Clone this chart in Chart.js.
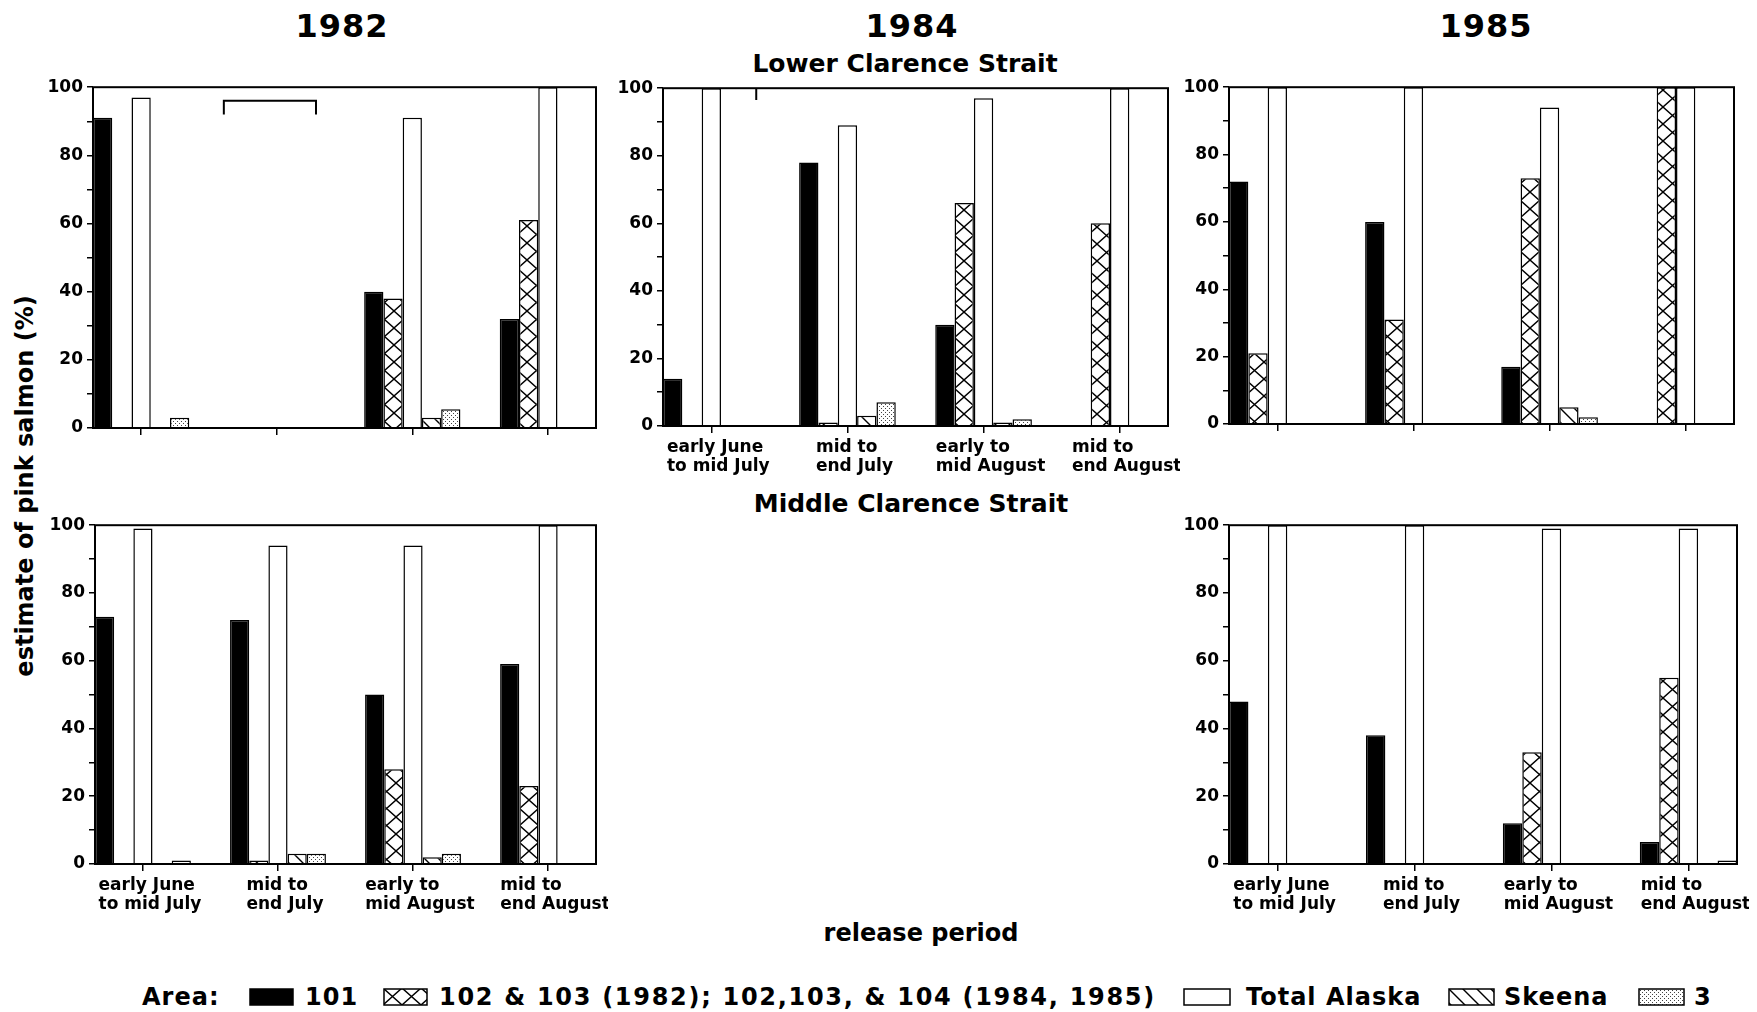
<!DOCTYPE html>
<html lang="en">
<head>
<meta charset="UTF-8">
<title>Estimate of pink salmon by release period</title>
<script src="https://cdn.jsdelivr.net/npm/chart.js"></script>
<style>
  body { margin:0; width:1757px; height:1012px; background:#fff; position:relative; overflow:hidden;
         font-family:"DejaVu Sans", sans-serif; font-weight:bold; color:#000; }
  .txt { position:absolute; white-space:nowrap; transform:translate(-50%,-50%); }
  .year { font-size:32px; letter-spacing:1px; }
  .strait { font-size:25px; }
  .leg { position:absolute; top:997px; transform:translateY(-50%); font-size:24px; letter-spacing:1px; white-space:nowrap; }
  canvas { position:absolute; }
</style>
</head>
<body>
<div class="txt year" style="left:342px; top:26px;">1982</div>
<div class="txt year" style="left:912px; top:26px;">1984</div>
<div class="txt year" style="left:1486px; top:26px;">1985</div>
<div class="txt strait" style="left:905px; top:63px;">Lower Clarence Strait</div>
<div class="txt strait" style="left:911px; top:503px;">Middle Clarence Strait</div>
<div class="txt" style="left:921px; top:933px; font-size:24px;">release period</div>
<div class="txt" style="left:25px; top:486px; font-size:24px; transform:translate(-50%,-50%) rotate(-90deg);">estimate of pink salmon (%)</div>

<div class="leg" style="left:142px;">Area:</div>
<div class="leg" style="left:305px;">101</div>
<div class="leg" style="left:439px; letter-spacing:1.7px;">102 &amp; 103 (1982); 102,103, &amp; 104 (1984, 1985)</div>
<div class="leg" style="left:1246px;">Total Alaska</div>
<div class="leg" style="left:1504px;">Skeena</div>
<div class="leg" style="left:1694px;">3</div>

<script>
// release periods (x categories)
const periods = [['early June', 'to mid July'], ['mid to', 'end July'], ['early to', 'mid August'], ['mid to', 'end August']];
const yTickLabels = [0, 20, 40, 60, 80, 100];

// Lower Clarence Strait
const lower1982_101 = [91, null, 40, 32];
const lower1982_102 = [0, null, 38, 61];
const lower1982_total = [97, null, 91, 100];
const lower1982_skeena = [0, null, 3, 0];
const lower1982_area3 = [3, null, 5.5, 0];

const lower1984_101 = [14, 78, 30, 0];
const lower1984_102 = [0, 1, 66, 60];
const lower1984_total = [100, 89, 97, 100];
const lower1984_skeena = [0, 3, 1, 0];
const lower1984_area3 = [0, 7, 2, 0];

const lower1985_101 = [72, 60, 17, 0];
const lower1985_102 = [21, 31, 73, 100];
const lower1985_total = [100, 100, 94, 100];
const lower1985_skeena = [0, 0, 5, 0];
const lower1985_area3 = [0, 0, 2, 0];

// Middle Clarence Strait
const middle1982_101 = [73, 72, 50, 59];
const middle1982_102 = [0, 1, 28, 23];
const middle1982_total = [99, 94, 94, 100];
const middle1982_skeena = [0, 3, 2, 0];
const middle1982_area3 = [1, 3, 3, 0];

const middle1985_101 = [48, 38, 12, 6.5];
const middle1985_102 = [0, 0, 33, 55];
const middle1985_total = [100, 100, 99, 99];
const middle1985_skeena = [0, 0, 0, 0];
const middle1985_area3 = [0, 0, 0, 1];

// odd bracket marks drawn on the original
const bracket1982 = [{x: 0.61, y: 92}, {x: 0.61, y: 96}, {x: 1.29, y: 96}, {x: 1.29, y: 92}];
const bracket1984 = [{x: 0.33, y: 100}, {x: 0.33, y: 96.5}];

// ---- patterns ----
function makePattern(w, h, draw) {
    const c = document.createElement('canvas');
    c.width = w; c.height = h;
    const g = c.getContext('2d');
    g.fillStyle = '#fff';
    g.fillRect(0, 0, w, h);
    g.strokeStyle = '#000';
    g.fillStyle = '#000';
    draw(g, w, h);
    return g.createPattern(c, 'repeat');
}
const crossPattern = makePattern(19, 17, (g, w, h) => {
    g.lineWidth = 1.4;
    g.beginPath();
    g.moveTo(0, 0); g.lineTo(w, h);
    g.moveTo(w, 0); g.lineTo(0, h);
    g.stroke();
});
const skeenaPattern = makePattern(14, 14, (g, w, h) => {
    g.lineWidth = 1.4;
    g.beginPath();
    g.moveTo(-1, -1); g.lineTo(w + 1, h + 1);
    g.moveTo(w - 1, -1); g.lineTo(w + 1, 1);
    g.moveTo(-1, h - 1); g.lineTo(1, h + 1);
    g.stroke();
});
const dotPattern = makePattern(4, 4, (g) => {
    g.fillStyle = '#444';
    g.fillRect(0, 0, 1, 1);
    g.fillRect(2, 2, 1, 1);
});

const seriesStyles = [
    {label: '101', fill: '#000'},
    {label: '102 & 103', fill: crossPattern},
    {label: 'Total Alaska', fill: '#fff'},
    {label: 'Skeena', fill: skeenaPattern},
    {label: '3', fill: dotPattern}
];

// panel frames in page pixels
const panels = [
    {L: 93, R: 596, T: 85, B: 428, labels: false, bracket: bracket1982,
     values: [lower1982_101, lower1982_102, lower1982_total, lower1982_skeena, lower1982_area3]},
    {L: 663, R: 1168, T: 86, B: 426, labels: true, bracket: bracket1984,
     values: [lower1984_101, lower1984_102, lower1984_total, lower1984_skeena, lower1984_area3]},
    {L: 1229, R: 1734, T: 85, B: 424, labels: false, bracket: null,
     values: [lower1985_101, lower1985_102, lower1985_total, lower1985_skeena, lower1985_area3]},
    {L: 95, R: 596, T: 523, B: 864, labels: true, bracket: null,
     values: [middle1982_101, middle1982_102, middle1982_total, middle1982_skeena, middle1982_area3]},
    {L: 1229, R: 1737, T: 523, B: 864, labels: true, bracket: null,
     values: [middle1985_101, middle1985_102, middle1985_total, middle1985_skeena, middle1985_area3]}
];

const YW = 60, PADT = 12, PADR = 12, XH = 62;
const FONT = '"DejaVu Sans", sans-serif';

const framePlugin = {
    id: 'frame',
    afterDatasetsDraw(chart) {
        const a = chart.chartArea, ctx = chart.ctx;
        ctx.save();
        ctx.strokeStyle = '#000';
        ctx.lineWidth = 2;
        ctx.strokeRect(a.left, a.top, a.right - a.left, a.bottom - a.top);
        ctx.restore();
    }
};

// x labels: block a little right of the tick, lines left aligned
const periodLabelPlugin = {
    id: 'periodLabels',
    afterDraw(chart, args, opts) {
        if (!opts.show) return;
        const ctx = chart.ctx, xs = chart.scales.x, bottom = chart.chartArea.bottom;
        ctx.save();
        ctx.font = 'bold 17px ' + FONT;
        ctx.fillStyle = '#000';
        ctx.textBaseline = 'middle';
        ctx.textAlign = 'left';
        periods.forEach((lines, i) => {
            const cx = xs.getPixelForValue(i);
            const w = Math.max(...lines.map(t => ctx.measureText(t).width));
            lines.forEach((t, k) => ctx.fillText(t, cx - w / 2 + 7, bottom + 22 + k * 19));
        });
        ctx.restore();
    }
};

function makePanel(p) {
    const cv = document.createElement('canvas');
    const w = p.R - p.L + YW + PADR, h = p.B - p.T + PADT + XH;
    cv.width = w; cv.height = h;
    cv.style.left = (p.L - YW) + 'px';
    cv.style.top = (p.T - PADT) + 'px';
    document.body.appendChild(cv);

    const datasets = seriesStyles.map((s, k) => ({
        type: 'bar',
        label: s.label,
        data: p.values[k].map((v, i) => ({x: i, y: v})),
        backgroundColor: s.fill,
        borderColor: '#000',
        borderWidth: 1.5,
        categoryPercentage: 0.71,
        barPercentage: 1.0
    }));
    if (p.bracket) {
        datasets.push({
            type: 'line', data: p.bracket, borderColor: '#000', borderWidth: 2,
            pointRadius: 0, fill: false, tension: 0
        });
    }

    new Chart(cv.getContext('2d'), {
        data: {datasets},
        options: {
            responsive: false,
            animation: false,
            devicePixelRatio: 1,
            layout: {padding: {top: PADT, right: PADR, left: 0, bottom: 0}},
            plugins: {
                legend: {display: false},
                tooltip: {enabled: false},
                periodLabels: {show: p.labels}
            },
            scales: {
                x: {
                    type: 'linear',
                    offset: false,
                    min: -0.355,
                    max: 3.355,
                    afterBuildTicks: sc => { sc.ticks = periods.map((_, i) => ({value: i})); },
                    afterFit: sc => { sc.height = XH; },
                    ticks: {display: false},
                    border: {display: false},
                    grid: {offset: false, drawOnChartArea: false, drawTicks: true, tickLength: 7, color: '#000', lineWidth: 1.5}
                },
                y: {
                    min: 0,
                    max: 100,
                    afterFit: sc => { sc.width = YW; },
                    ticks: {
                        stepSize: 10,
                        padding: 4,
                        color: '#000',
                        font: {family: FONT, size: 17, weight: 'bold'},
                        callback: v => yTickLabels.includes(v) ? String(v) : ''
                    },
                    border: {display: false},
                    grid: {drawOnChartArea: false, drawTicks: true, tickLength: 6, color: '#000', lineWidth: 1.5}
                }
            }
        },
        plugins: [framePlugin, periodLabelPlugin]
    });
}
panels.forEach(makePanel);

// legend swatches
function swatch(left, fill, width) {
    const c = document.createElement('canvas');
    c.width = width; c.height = 18;
    c.style.left = left + 'px';
    c.style.top = '988px';
    const g = c.getContext('2d');
    g.fillStyle = fill;
    g.fillRect(1, 1, width - 2, 16);
    g.strokeStyle = '#000';
    g.lineWidth = 1.5;
    g.strokeRect(1, 1, width - 2, 16);
    document.body.appendChild(c);
}
swatch(249, '#000', 45);
swatch(383, crossPattern, 45);
swatch(1183, '#fff', 48);
swatch(1448, skeenaPattern, 47);
swatch(1638, dotPattern, 47);
</script>
</body>
</html>
